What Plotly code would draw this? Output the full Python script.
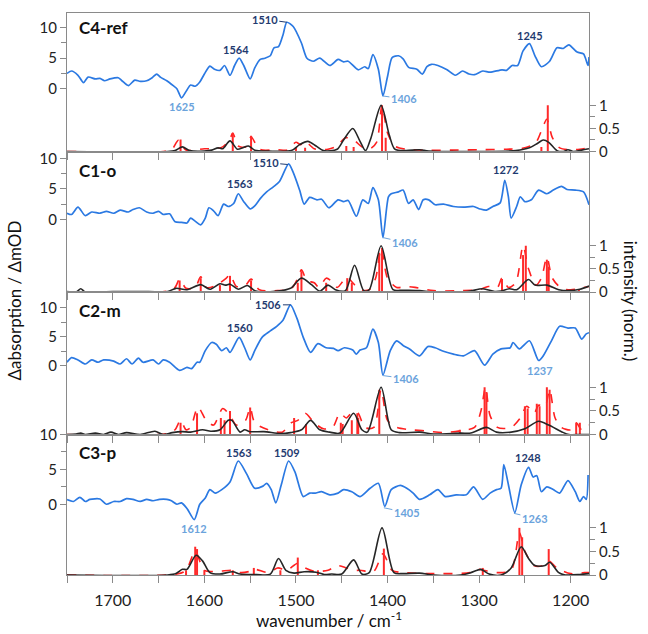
import plotly.graph_objects as go

# ---------------- DATA ----------------
# Panel C4-ref : experimental (blue)
C4_exp_wn = [1750, 1745, 1738, 1732, 1727, 1719, 1714, 1709, 1703, 1694, 1690, 1683, 1676, 1670, 1663, 1657, 1652, 1648, 1641, 1634, 1630, 1625, 1619, 1615, 1610, 1605, 1600, 1594, 1589, 1583, 1578, 1572, 1567, 1562, 1557, 1550, 1545, 1539, 1534, 1528, 1524, 1519, 1514, 1510, 1503, 1494, 1488, 1481, 1474, 1463, 1454, 1448, 1443, 1432, 1425, 1421, 1416, 1410, 1405, 1400, 1395, 1388, 1383, 1377, 1368, 1362, 1357, 1352, 1345, 1335, 1326, 1318, 1311, 1305, 1296, 1288, 1275, 1270, 1264, 1258, 1252, 1245, 1239, 1232, 1223, 1215, 1208, 1202, 1193, 1186, 1181, 1180]
C4_exp_val = [2.5, 2.9, 2.2, 1.0, 1.9, 1.6, 1.7, 1.3, 1.6, 1.8, 1.3, 0.5, 1.4, 1.2, 1.3, 1.8, 2.4, 1.9, 1.3, 0.5, 0.0, -1.5, -0.2, 0.6, 0.4, 1.1, 2.4, 3.7, 3.2, 3.0, 3.8, 2.2, 3.8, 5.0, 3.8, 1.6, 3.4, 4.8, 5.0, 5.4, 6.7, 6.9, 8.9, 10.9, 10.2, 7.5, 5.0, 4.5, 5.0, 3.8, 4.8, 4.4, 4.5, 3.1, 3.6, 3.3, 5.6, 3.2, -1.2, 2.0, 5.1, 5.4, 4.9, 3.5, 3.2, 2.4, 3.6, 4.0, 3.8, 3.1, 2.2, 2.9, 2.4, 2.3, 2.9, 2.7, 3.1, 3.0, 3.8, 3.8, 6.2, 7.4, 5.4, 3.6, 4.5, 6.7, 6.6, 7.2, 6.0, 5.7, 3.8, 5.2]
# calculated (black), Lorentzian-like (red dashed), sticks (red)
C4_calc_wn = [1750, 1640, 1632, 1624, 1616, 1600, 1592, 1585, 1580, 1572, 1564, 1558, 1552, 1545, 1530, 1505, 1496, 1487, 1478, 1470, 1455, 1448, 1438, 1430, 1424, 1418, 1407, 1398, 1392, 1380, 1365, 1355, 1300, 1260, 1245, 1236, 1230, 1224, 1215, 1208, 1203, 1197, 1188, 1180]
C4_calc_val = [0, 0, 0.02, 0.1, 0.02, 0.01, 0.03, 0.08, 0.06, 0.23, 0.05, 0.08, 0.12, 0.03, 0.01, 0.02, 0.15, 0.22, 0.12, 0.02, 0.05, 0.25, 0.5, 0.22, 0.02, 0.3, 1.0, 0.35, 0.05, 0.02, 0.04, 0.01, 0.0, 0.02, 0.08, 0.18, 0.25, 0.2, 0.02, 0.0, 0.04, 0.0, 0.03, 0.06]
C4_dash_wn = [1750, 1645, 1636, 1628, 1620, 1600, 1590, 1580, 1572, 1569, 1563, 1555, 1549, 1540, 1520, 1510, 1500, 1495, 1490, 1480, 1465, 1455, 1446, 1437, 1428, 1420, 1412, 1406, 1400, 1392, 1380, 1360, 1330, 1300, 1270, 1250, 1238, 1231, 1226, 1220, 1212, 1200, 1190, 1180]
C4_dash_val = [0, 0, 0.03, 0.25, 0.03, 0.06, 0.06, 0.1, 0.28, 0.4, 0.12, 0.1, 0.32, 0.05, 0.04, 0.03, 0.2, 0.15, 0.22, 0.06, 0.05, 0.12, 0.3, 0.25, 0.1, 0.05, 0.2, 1.0, 0.4, 0.12, 0.05, 0.03, 0.03, 0.04, 0.05, 0.08, 0.2, 0.5, 0.7, 0.3, 0.08, 0.04, 0.05, 0.08]
C4_stick_wn = [1626, 1569, 1549, 1500, 1490, 1445, 1437, 1406, 1402, 1232, 1225]
C4_stick_h = [0.26, 0.4, 0.34, 0.1, 0.08, 0.12, 0.1, 1.0, 0.3, 0.1, 1.0]

# Panel C1-o
C1_exp_wn = [1750, 1745, 1738, 1730, 1723, 1714, 1707, 1699, 1692, 1683, 1678, 1671, 1663, 1656, 1650, 1645, 1638, 1632, 1625, 1619, 1615, 1610, 1604, 1599, 1595, 1590, 1585, 1579, 1574, 1568, 1563, 1557, 1550, 1545, 1539, 1532, 1525, 1518, 1508, 1503, 1496, 1491, 1485, 1477, 1472, 1464, 1454, 1448, 1443, 1434, 1427, 1421, 1416, 1410, 1405, 1399, 1396, 1388, 1383, 1377, 1372, 1366, 1361, 1355, 1348, 1339, 1328, 1317, 1306, 1299, 1292, 1285, 1277, 1272, 1268, 1265, 1259, 1255, 1250, 1243, 1235, 1226, 1219, 1210, 1204, 1195, 1186, 1180]
C1_exp_val = [1.0, 0.8, 2.0, 0.6, 1.2, 1.0, 1.3, 1.0, 1.5, 1.2, 1.6, 1.9, 1.2, 1.0, 1.3, 0.8, 0.9, -0.4, -0.5, -0.6, 0.2, -0.3, -0.9, 0.2, 1.9, 1.4, 0.6, 2.5, 2.1, 2.6, 4.2, 2.9, 1.7, 2.2, 3.4, 4.5, 5.3, 6.2, 9.1, 7.7, 4.8, 2.5, 3.6, 3.2, 3.3, 1.9, 3.2, 2.9, 3.1, 0.5, 3.2, 2.6, 5.2, 3.2, -3.0, 3.7, 4.2, 4.5, 4.8, 2.6, 3.2, 1.6, 3.2, 3.2, 2.4, 2.5, 2.1, 2.0, 2.1, 1.7, 1.5, 2.1, 2.7, 6.4, 3.7, 0.2, 2.1, 3.7, 2.9, 3.2, 4.8, 4.2, 4.8, 5.4, 4.9, 4.8, 4.5, 2.4]
C1_calc_wn = [1750, 1740, 1735, 1730, 1700, 1661, 1640, 1631, 1619, 1604, 1594, 1583, 1577, 1572, 1563, 1553, 1544, 1520, 1506, 1494, 1483, 1474, 1465, 1457, 1446, 1436, 1426, 1420, 1407, 1394, 1383, 1365, 1350, 1313, 1296, 1283, 1276, 1267, 1259, 1246, 1239, 1226, 1213, 1202, 1190, 1180]
C1_calc_val = [0.01, 0.0, 0.07, 0.0, 0.01, 0.01, 0.01, 0.08, 0.05, 0.16, 0.06, 0.18, 0.15, 0.17, 0.06, 0.14, 0.02, 0.02, 0.08, 0.3, 0.16, 0.02, 0.15, 0.05, 0.03, 0.58, 0.03, 0.05, 1.0, 0.05, 0.04, 0.03, 0.0, 0.01, 0.07, 0.01, 0.02, 0.07, 0.05, 0.27, 0.15, 0.15, 0.05, 0.03, 0.06, 0.13]
C1_dash_wn = [1750, 1640, 1632, 1627, 1620, 1610, 1604, 1598, 1590, 1583, 1576, 1572, 1565, 1555, 1549, 1540, 1520, 1505, 1498, 1494, 1488, 1480, 1475, 1467, 1462, 1455, 1448, 1444, 1438, 1430, 1420, 1413, 1407, 1400, 1390, 1380, 1370, 1350, 1320, 1300, 1290, 1280, 1275, 1268, 1260, 1252, 1246, 1238, 1232, 1226, 1220, 1210, 1200, 1190, 1180]
C1_dash_val = [0, 0.02, 0.1, 0.28, 0.08, 0.1, 0.33, 0.1, 0.12, 0.2, 0.3, 0.38, 0.12, 0.15, 0.28, 0.05, 0.03, 0.08, 0.3, 0.48, 0.25, 0.2, 0.1, 0.3, 0.25, 0.1, 0.25, 0.32, 0.2, 0.05, 0.05, 0.3, 0.95, 0.3, 0.1, 0.12, 0.1, 0.03, 0.03, 0.05, 0.12, 0.1, 0.3, 0.1, 0.2, 1.0, 0.5, 0.15, 0.3, 0.75, 0.3, 0.08, 0.05, 0.08, 0.12]
C1_stick_wn = [1627, 1604, 1583, 1572, 1549, 1498, 1494, 1467, 1444, 1439, 1409, 1406, 1275, 1252, 1249, 1226, 1224, 1191]
C1_stick_h = [0.25, 0.3, 0.15, 0.35, 0.25, 0.2, 0.45, 0.2, 0.3, 0.2, 0.85, 0.95, 0.28, 0.8, 1.0, 0.7, 0.55, 0.05]

# Panel C2-m
C2_exp_wn = [1750, 1745, 1738, 1730, 1723, 1716, 1710, 1699, 1692, 1685, 1679, 1672, 1667, 1656, 1650, 1645, 1638, 1627, 1619, 1614, 1608, 1605, 1599, 1592, 1587, 1581, 1576, 1572, 1562, 1556, 1550, 1545, 1537, 1528, 1521, 1514, 1506, 1499, 1492, 1484, 1476, 1467, 1459, 1454, 1447, 1438, 1434, 1430, 1423, 1416, 1410, 1405, 1397, 1390, 1383, 1376, 1365, 1356, 1348, 1339, 1328, 1317, 1305, 1294, 1285, 1276, 1266, 1263, 1256, 1245, 1235, 1230, 1221, 1212, 1203, 1195, 1188, 1183, 1180]
C2_exp_val = [0.6, 1.4, 1.0, 0.3, 1.0, 0.6, 1.0, 0.8, 0.3, 1.2, 0.3, 1.3, 0.6, 1.0, 0.3, 1.0, 0.6, -0.8, -0.3, -0.5, 0.6, 0.6, 2.6, 4.0, 3.7, 2.6, 3.1, 2.3, 4.9, 3.1, 1.0, 2.6, 4.9, 6.0, 6.8, 7.9, 10.5, 8.2, 4.9, 2.3, 3.8, 3.1, 3.0, 2.6, 3.1, 2.7, 2.0, 2.7, 3.1, 6.3, 4.0, -1.6, 2.6, 4.3, 3.5, 2.9, 1.7, 3.3, 3.1, 2.5, 2.0, 1.7, 2.6, 0.1, 2.0, 2.9, 3.1, 4.0, 2.9, 4.3, 0.9, 1.7, 4.3, 6.8, 6.5, 6.5, 4.6, 5.5, 5.7]
C2_calc_wn = [1750, 1740, 1735, 1730, 1719, 1710, 1702, 1694, 1685, 1670, 1654, 1645, 1635, 1624, 1615, 1602, 1593, 1583, 1574, 1570, 1561, 1556, 1550, 1535, 1517, 1506, 1494, 1484, 1474, 1463, 1452, 1437, 1428, 1422, 1407, 1396, 1387, 1365, 1350, 1320, 1309, 1292, 1281, 1265, 1250, 1235, 1224, 1209, 1202, 1190, 1180]
C2_calc_val = [0.0, 0.01, 0.03, 0.0, 0.03, 0.0, 0.05, 0.0, 0.04, 0.0, 0.07, 0.0, 0.04, 0.06, 0.05, 0.1, 0.07, 0.1, 0.3, 0.3, 0.05, 0.1, 0.06, 0.06, 0.02, 0.04, 0.1, 0.3, 0.1, 0.05, 0.03, 0.45, 0.1, 0.05, 1.0, 0.1, 0.04, 0.05, 0.01, 0.03, 0.03, 0.15, 0.05, 0.05, 0.12, 0.28, 0.2, 0.05, 0.0, 0.0, 0.0]
C2_dash_wn = [1750, 1640, 1632, 1626, 1620, 1615, 1607, 1598, 1590, 1580, 1572, 1565, 1555, 1550, 1545, 1530, 1515, 1505, 1498, 1490, 1480, 1470, 1460, 1452, 1445, 1438, 1432, 1425, 1415, 1407, 1400, 1390, 1375, 1360, 1340, 1320, 1305, 1298, 1293, 1288, 1280, 1265, 1255, 1248, 1240, 1235, 1228, 1223, 1217, 1210, 1200, 1194, 1188, 1180]
C2_dash_val = [0, 0.02, 0.1, 0.3, 0.1, 0.15, 0.58, 0.3, 0.2, 0.55, 0.4, 0.2, 0.3, 0.57, 0.25, 0.1, 0.05, 0.25, 0.3, 0.45, 0.25, 0.12, 0.15, 0.45, 0.35, 0.48, 0.45, 0.15, 0.15, 0.95, 0.3, 0.15, 0.1, 0.08, 0.04, 0.08, 0.15, 0.5, 1.0, 0.4, 0.15, 0.15, 0.35, 0.6, 0.45, 0.62, 0.6, 0.95, 0.35, 0.15, 0.1, 0.25, 0.1, 0.2]
C2_stick_wn = [1626, 1608, 1582, 1578, 1572, 1550, 1502, 1489, 1451, 1449, 1439, 1433, 1432, 1409, 1321, 1294, 1292, 1250, 1247, 1237, 1234, 1226, 1223, 1194, 1190]
C2_stick_h = [0.25, 0.45, 0.35, 0.3, 0.5, 0.57, 0.35, 0.22, 0.25, 0.22, 0.3, 0.45, 0.35, 0.95, 0.1, 1.0, 0.9, 0.6, 0.55, 0.65, 0.6, 1.0, 0.95, 0.25, 0.25]

# Panel C3-p
C3_exp_wn = [1750, 1743, 1736, 1730, 1725, 1714, 1707, 1699, 1692, 1685, 1678, 1670, 1663, 1656, 1649, 1641, 1636, 1630, 1625, 1619, 1611, 1605, 1599, 1594, 1588, 1581, 1572, 1563, 1554, 1545, 1536, 1532, 1527, 1522, 1516, 1508, 1501, 1492, 1485, 1479, 1472, 1463, 1454, 1448, 1439, 1430, 1419, 1410, 1403, 1396, 1386, 1379, 1372, 1365, 1354, 1345, 1337, 1325, 1314, 1306, 1296, 1288, 1281, 1276, 1273, 1268, 1261, 1254, 1246, 1241, 1237, 1232, 1226, 1219, 1212, 1203, 1195, 1190, 1186, 1183, 1181]
C3_exp_val = [0.66, 0.4, 1.0, 0.4, 0.7, 0.75, 0.0, 0.4, 0.4, 0.8, 0.7, 0.4, 0.7, 0.5, 0.7, 0.7, 0.5, 0.0, 0.2, -0.6, -2.2, 0.0, 0.9, 2.1, 1.6, 2.1, 3.2, 6.2, 4.4, 2.3, 2.6, 3.0, 2.1, 0.2, 2.8, 6.2, 4.6, 1.1, 1.6, 1.6, 1.8, 1.35, 1.6, 2.1, 1.8, 1.1, 2.3, 3.0, -0.3, 2.1, 2.7, 2.3, 1.6, 0.7, 1.35, 2.1, 1.1, 1.35, 1.35, 2.5, 0.7, 1.6, 2.1, 2.3, 5.7, 2.8, -1.2, 2.8, 5.3, 3.9, 4.1, 1.8, 2.5, 2.1, 1.6, 3.4, 1.8, 0.4, 1.1, 0.7, 4.2]
C3_calc_wn = [1750, 1640, 1631, 1624, 1619, 1609, 1602, 1594, 1583, 1569, 1561, 1543, 1528, 1519, 1511, 1502, 1491, 1478, 1469, 1461, 1450, 1437, 1428, 1420, 1406, 1393, 1383, 1365, 1350, 1320, 1309, 1298, 1289, 1276, 1265, 1254, 1246, 1239, 1228, 1223, 1213, 1206, 1190, 1180]
C3_calc_val = [0, 0, 0.03, 0.12, 0.12, 0.42, 0.3, 0.05, 0.02, 0.07, 0.02, 0.01, 0.02, 0.35, 0.1, 0.04, 0.07, 0.06, 0.01, 0.02, 0.02, 0.32, 0.02, 0.05, 1.0, 0.05, 0.03, 0.04, 0.0, 0.0, 0.05, 0.12, 0.02, 0.0, 0.15, 0.6, 0.35, 0.2, 0.2, 0.27, 0.05, 0.0, 0.01, 0.03]
C3_dash_wn = [1750, 1630, 1620, 1610, 1600, 1585, 1570, 1560, 1550, 1545, 1530, 1520, 1510, 1498, 1490, 1480, 1465, 1455, 1445, 1438, 1430, 1415, 1405, 1395, 1380, 1350, 1310, 1300, 1295, 1280, 1265, 1256, 1250, 1240, 1230, 1224, 1215, 1200, 1185, 1180]
C3_dash_val = [0, 0.02, 0.1, 0.5, 0.1, 0.08, 0.1, 0.05, 0.08, 0.12, 0.05, 0.15, 0.1, 0.25, 0.15, 0.08, 0.1, 0.2, 0.15, 0.1, 0.1, 0.08, 0.45, 0.1, 0.05, 0.03, 0.05, 0.12, 0.1, 0.05, 0.1, 0.9, 0.5, 0.2, 0.2, 0.3, 0.15, 0.03, 0.05, 0.05]
C3_stick_wn = [1620, 1610, 1608, 1600, 1569, 1546, 1517, 1498, 1476, 1404, 1296, 1256, 1253, 1224]
C3_stick_h = [0.1, 0.6, 0.55, 0.1, 0.1, 0.15, 0.1, 0.37, 0.1, 0.56, 0.15, 1.0, 0.8, 0.55]

TITLES = ["C4-ref", "C1-o", "C2-m", "C3-p"]
X_MAJOR = [1700, 1600, 1500, 1400, 1300, 1200]
X_MINOR = [1750, 1650, 1550, 1450, 1350, 1250]

# ---------------- STYLE / LAYOUT ----------------
FONT = "Lato, 'Open Sans', sans-serif"
BLUE = "#2b79e2"
DARK = "#1f3b70"
LIGHT = "#6ba3dc"
GRAY = "#8a8a8a"

panels = [
    (C4_exp_wn, C4_exp_val, C4_calc_wn, C4_calc_val, C4_dash_wn, C4_dash_val, C4_stick_wn, C4_stick_h),
    (C1_exp_wn, C1_exp_val, C1_calc_wn, C1_calc_val, C1_dash_wn, C1_dash_val, C1_stick_wn, C1_stick_h),
    (C2_exp_wn, C2_exp_val, C2_calc_wn, C2_calc_val, C2_dash_wn, C2_dash_val, C2_stick_wn, C2_stick_h),
    (C3_exp_wn, C3_exp_val, C3_calc_wn, C3_calc_val, C3_dash_wn, C3_dash_val, C3_stick_wn, C3_stick_h),
]
domains = [[0.7535, 1.0], [0.5035, 0.7535], [0.25, 0.5035], [0.0, 0.25]]
left_ranges = [[-10.32, 12.42], [-11.94, 11.13], [-11.86, 12.71], [-10.14, 10.0]]
right_ranges = [[0, 3.0], [0, 3.04], [0, 3.02], [0, 2.98]]

fig = go.Figure()
layout = {}
for i, (ew, ev, cw, cv, dw, dv, sw, sh) in enumerate(panels):
    xa = "x" if i == 0 else f"x{i+1}"
    yl = "y" if i == 0 else f"y{2*i+1}"
    yr = f"y{2*i+2}"
    fig.add_trace(go.Scatter(x=ew, y=ev, xaxis=xa, yaxis=yl, mode="lines",
                             line=dict(color=BLUE, width=1.7, shape="spline", smoothing=0.7),
                             showlegend=False, hoverinfo="skip"))
    fig.add_trace(go.Scatter(x=dw, y=dv, xaxis=xa, yaxis=yr, mode="lines",
                             line=dict(color="#ff2020", width=1.6, dash="dash", shape="spline", smoothing=0.8),
                             showlegend=False, hoverinfo="skip"))
    sx, sy = [], []
    for w, h in zip(sw, sh):
        sx += [w, w, None]
        sy += [0, h, None]
    fig.add_trace(go.Scatter(x=sx, y=sy, xaxis=xa, yaxis=yr, mode="lines",
                             line=dict(color="#ff2a2a", width=2.0),
                             showlegend=False, hoverinfo="skip"))
    fig.add_trace(go.Scatter(x=cw, y=cv, xaxis=xa, yaxis=yr, mode="lines",
                             line=dict(color="#262626", width=1.6, shape="spline", smoothing=0.8),
                             showlegend=False, hoverinfo="skip"))
    xkey = "xaxis" if i == 0 else f"xaxis{i+1}"
    ylkey = "yaxis" if i == 0 else f"yaxis{2*i+1}"
    yrkey = f"yaxis{2*i+2}"
    layout[xkey] = dict(domain=[0, 1], range=[1750, 1180], anchor=yl, showline=True, mirror=True,
                        linecolor=GRAY, linewidth=1, ticks="outside", ticklen=7, tickcolor=GRAY,
                        tickvals=X_MAJOR, ticktext=[str(t) for t in X_MAJOR],
                        minor=dict(tickvals=X_MINOR, ticks="outside", ticklen=7, tickcolor=GRAY),
                        showticklabels=(i == 3), ticklabelstandoff=4, showgrid=False, zeroline=False,
                        tickfont=dict(size=16, color="#222"))
    layout[ylkey] = dict(domain=domains[i], range=left_ranges[i], anchor=xa, showline=True,
                         linecolor=GRAY, linewidth=1, ticks="outside", ticklen=6, tickcolor=GRAY,
                         tickvals=[0, 5, 10], ticktext=["0", "5", "10"],
                         minor=dict(tickvals=[2.5, 7.5], ticks="outside", ticklen=5, tickcolor=GRAY),
                         showgrid=False, zeroline=False, tickfont=dict(size=15, color="#222"))
    layout[yrkey] = dict(overlaying=yl, side="right", range=right_ranges[i], anchor=xa, showline=True,
                         linecolor=GRAY, linewidth=1, ticks="outside", ticklen=6, tickcolor=GRAY,
                         tickvals=[0, 0.5, 1], ticktext=["0", "0.5", "1"],
                         minor=dict(tickvals=[0.25, 0.75], ticks="outside", ticklen=5, tickcolor=GRAY),
                         showgrid=False, zeroline=False, tickfont=dict(size=15, color="#222"))

ann = []
title_y = [0.974, 0.720, 0.470, 0.2185]
for t, yy in zip(TITLES, title_y):
    ann.append(dict(text=f"<b>{t}</b>", x=0.019, y=yy, xref="paper", yref="paper", xanchor="left",
                    yanchor="middle", showarrow=False, font=dict(size=17, color="#111", family=FONT)))

def lab(text, x, y, yref, color, ax=None, ay=None):
    d = dict(text=f"<b>{text}</b>", x=x, y=y, xref=yref[0], yref=yref[1], font=dict(size=11, color=color, family=FONT))
    if ax is None:
        d.update(showarrow=False)
    else:
        d.update(showarrow=True, arrowhead=0, arrowwidth=1, arrowcolor=color, ax=ax, ay=ay, standoff=0)
    return d

p1 = ("x", "y"); p2 = ("x2", "y3"); p3 = ("x3", "y5"); p4 = ("x4", "y7")
ann += [
    lab("1510", 1510, 10.9, p1, DARK, -22, -3),
    lab("1564", 1565, 6.5, p1, DARK),
    lab("1625", 1624, -2.9, p1, LIGHT),
    lab("1406", 1405, -1.2, p1, LIGHT, 21, 3),
    lab("1245", 1244, 8.8, p1, DARK),
    lab("1510", 1509, 9.0, p2, DARK, -22, -2),
    lab("1563", 1561, 5.8, p2, DARK),
    lab("1406", 1405, -3.0, p2, LIGHT, 22, 5),
    lab("1272", 1271, 8.1, p2, DARK),
    lab("1506", 1506, 10.5, p3, DARK, -22, 0),
    lab("1560", 1561, 6.6, p3, DARK),
    lab("1406", 1405, -1.7, p3, LIGHT, 23, 3),
    lab("1237", 1234, -0.85, p3, LIGHT),
    lab("1563", 1562, 7.4, p4, DARK),
    lab("1509", 1510, 7.4, p4, DARK),
    lab("1612", 1611, -3.5, p4, LIGHT),
    lab("1405", 1404, -0.5, p4, LIGHT, 23, 5),
    lab("1263", 1262, -1.3, p4, LIGHT, 21, 5),
    lab("1248", 1247, 6.7, p4, DARK),
]
ann.append(dict(text="Δabsorption / ΔmOD", x=-0.1, y=0.488, xref="paper", yref="paper", textangle=-90,
                xanchor="center", yanchor="middle",
                showarrow=False, font=dict(size=17, color="#111", family=FONT)))
ann.append(dict(text="intensity (norm.)", x=1.0785, y=0.488, xref="paper", yref="paper", textangle=90,
                xanchor="center", yanchor="middle",
                showarrow=False, font=dict(size=17, color="#111", family=FONT)))
ann.append(dict(text="wavenumber / cm<sup>-1</sup>", x=0.502, y=-0.080, xref="paper", yref="paper",
                xanchor="center", yanchor="middle",
                showarrow=False, font=dict(size=17, color="#111", family=FONT)))

fig.update_layout(width=648, height=634, margin=dict(l=67, r=59, t=3, b=59),
                  paper_bgcolor="white", plot_bgcolor="white", font=dict(family=FONT, color="#222"),
                  annotations=ann, **layout)
fig.write_html("out.html")
